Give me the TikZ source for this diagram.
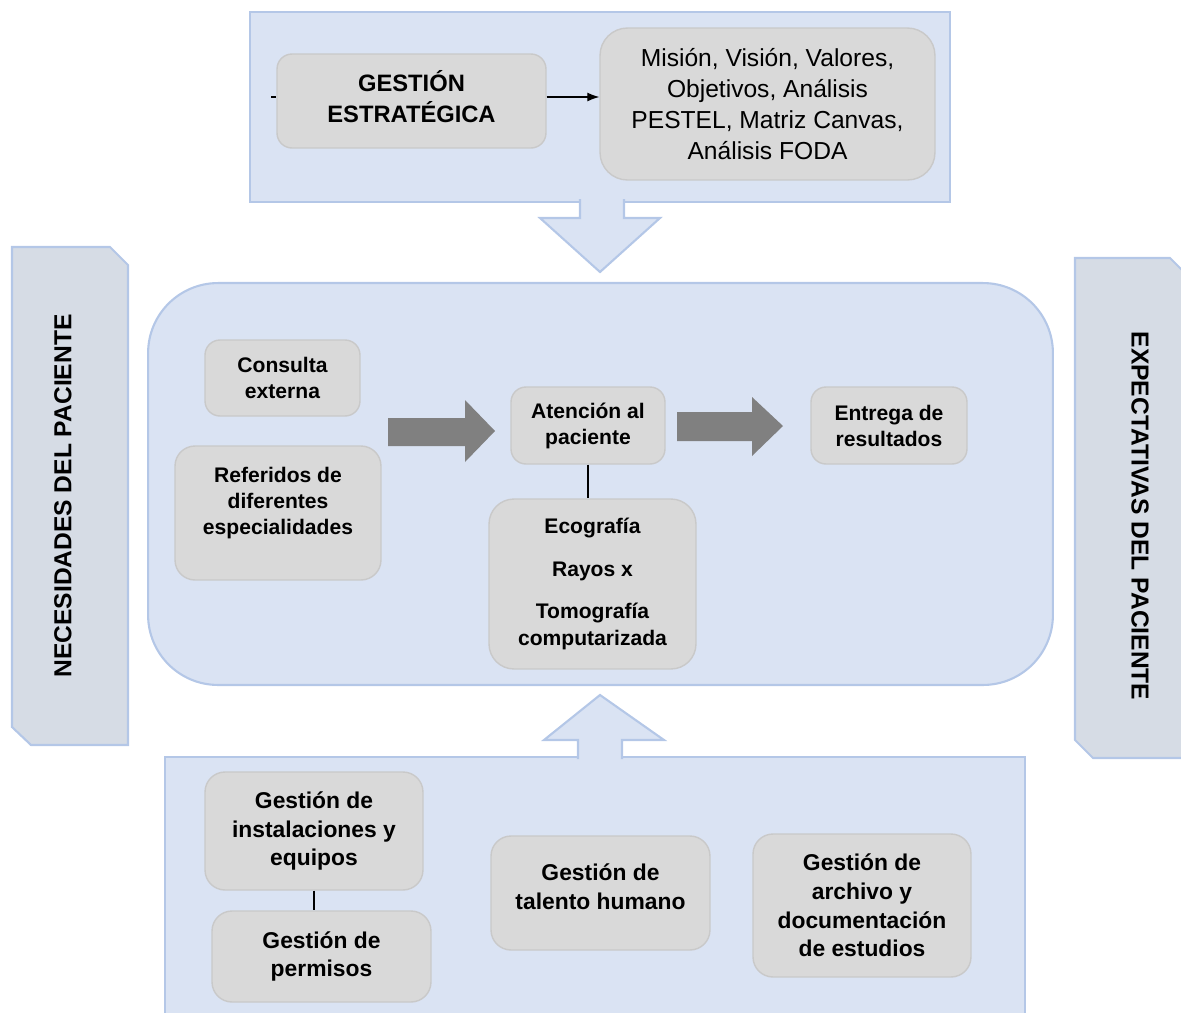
\documentclass[tikz,border=0pt]{standalone}
\usepackage{fontspec}
\setmainfont{Liberation Sans}
\usepackage{tikz}
\usetikzlibrary{arrows.meta}
\usetikzlibrary{scopes}
\definecolor{panelblue}{HTML}{DAE3F3}
\definecolor{paneledge}{HTML}{B4C7E7}
\definecolor{bannerfill}{HTML}{D6DCE5}
\definecolor{boxgrey}{HTML}{D9D9D9}
\definecolor{boxedge}{HTML}{C9C9C9}
\definecolor{arrowgrey}{HTML}{808080}

\begin{document}
\begin{tikzpicture}[x=0.02cm,y=-0.02cm,
  panel/.style={draw=paneledge,fill=panelblue,line width=1.2pt},
  banner/.style={draw=paneledge,fill=bannerfill,line width=1.2pt},
  bigarrow/.style={fill=arrowgrey},
  bannertext/.style={font=\fontsize{14}{17}\selectfont\bfseries}]
\useasboundingbox (0,0) rectangle (1181,1012);
\clip (0,0) rectangle (1181,1012);

\draw[banner] (12,247) -- (110,247) -- (128,265) -- (128,745) -- (31,745) -- (12,727) -- cycle;
\draw[banner] (1075,258) -- (1170,258) -- (1188,276) -- (1188,758) -- (1093,758) -- (1075,740) -- cycle;
\node[bannertext,rotate=90] (nec) at (63,496) {NECESIDADES DEL PACIENTE};
\node[bannertext,rotate=-90] (expec) at (1140,516) {EXPECTATIVAS DEL PACIENTE};

\begin{scope}[every node/.style={panel,inner sep=0pt}]
    \node[minimum width=14cm,minimum height=3.8cm] (estr) at (600,107) {};
    \node[rounded corners=1.4cm,minimum width=18.1cm,minimum height=8.04cm] (proc) at (600.5,484) {};
    \node[minimum width=17.2cm,minimum height=5.8cm] (apoyo) at (595,902) {};
\end{scope}

\path[fill=panelblue,draw=paneledge,line width=1.2pt]
    (580,199) -- (580,218) -- (540,218) -- (600,272) -- (660,218) -- (624,218) -- (624,199);
\path[fill=panelblue,draw=paneledge,line width=1.2pt]
    (578,759) -- (578,740) -- (544,740) -- (600,695) -- (664,740) -- (622,740) -- (622,759);

\fill[bigarrow] (388,418) -- (465,418) -- (465,400) -- (495,431) -- (465,462) -- (465,446) -- (388,446) -- cycle;
\fill[bigarrow] (677,412) -- (752,412) -- (752,397) -- (783,426) -- (752,456) -- (752,441) -- (677,441) -- cycle;

\begin{scope}[every node/.style={draw=boxedge,fill=boxgrey,line width=0.8pt,
              rounded corners=0.35cm,align=center,inner sep=0pt,
              font=\fontsize{13.5}{17.6}\selectfont}]
    \node[rounded corners=0.3cm,minimum width=5.38cm,minimum height=1.88cm,
          label={[draw=none,fill=none,yshift=0.08cm,
                  font=\fontsize{13.5}{17.6}\selectfont\bfseries]center:{GESTIÓN\\ESTRATÉGICA}}]
          (gest) at (411.5,101) {};
    \node[font=\fontsize{14}{17.6}\selectfont,rounded corners=0.55cm,
          minimum width=6.7cm,minimum height=3.04cm] (mision) at (767.5,104)
          {Misión, Visión, Valores,\\Objetivos, Análisis\\PESTEL, Matriz Canvas,\\Análisis FODA};
\end{scope}

\begin{scope}[every node/.style={draw=boxedge,fill=boxgrey,line width=0.8pt,
              rounded corners=0.3cm,align=center,inner sep=0pt,
              font=\fontsize{12}{14.8}\selectfont\bfseries}]
    \node[minimum width=3.1cm,minimum height=1.52cm] (consulta) at (282.5,378) {Consulta\\externa};
    \node[minimum width=4.12cm,minimum height=2.68cm,rounded corners=0.4cm,
          label={[draw=none,fill=none,yshift=0.2cm]center:{Referidos de\\diferentes\\especialidades}}]
          (referidos) at (278,513) {};
    \node[minimum width=3.08cm,minimum height=1.54cm] (atencion) at (588,425.5) {Atención al\\paciente};
    \node[minimum width=3.12cm,minimum height=1.54cm] (entrega) at (889,425.5) {Entrega de\\resultados};
    \node[minimum width=4.14cm,minimum height=3.4cm,rounded corners=0.5cm,
          font=\fontsize{12}{15.6}\selectfont\bfseries] (eco) at (592.5,584)
          {Ecografía\\[9pt]Rayos x\\[8pt]Tomografía\\computarizada};
\end{scope}

\begin{scope}[every node/.style={draw=boxedge,fill=boxgrey,line width=0.8pt,
              rounded corners=0.4cm,align=center,inner sep=0pt,
              font=\fontsize{13}{16.3}\selectfont\bfseries}]
    \node[minimum width=4.36cm,minimum height=2.36cm] (instal) at (314,831) {Gestión de\\instalaciones y\\equipos};
    \node[minimum width=4.38cm,minimum height=1.82cm] (permisos) at (321.5,956.5) {Gestión de\\permisos};
    \node[minimum width=4.38cm,minimum height=2.28cm,
          label={[draw=none,fill=none,yshift=0.13cm]center:{Gestión de\\talento humano}}]
          (talento) at (600.5,893) {};
    \node[minimum width=4.36cm,minimum height=2.86cm] (archivo) at (862,905.5) {Gestión de\\archivo y\\documentación\\de estudios};
\end{scope}

\coordinate (stub) at (271,97);
\begin{scope}[>={Latex[length=2.4mm,width=1.8mm]},
              every edge/.style={draw=black,line width=0.7pt}]
    \path [->] (gest.east |- stub) edge (mision.west |- stub);
    \path (stub) edge (gest.west |- stub);
    \path (atencion.south) edge (atencion.south |- eco.north);
    \path (instal.south) edge (instal.south |- permisos.north);
\end{scope}
\end{tikzpicture}
\end{document}
